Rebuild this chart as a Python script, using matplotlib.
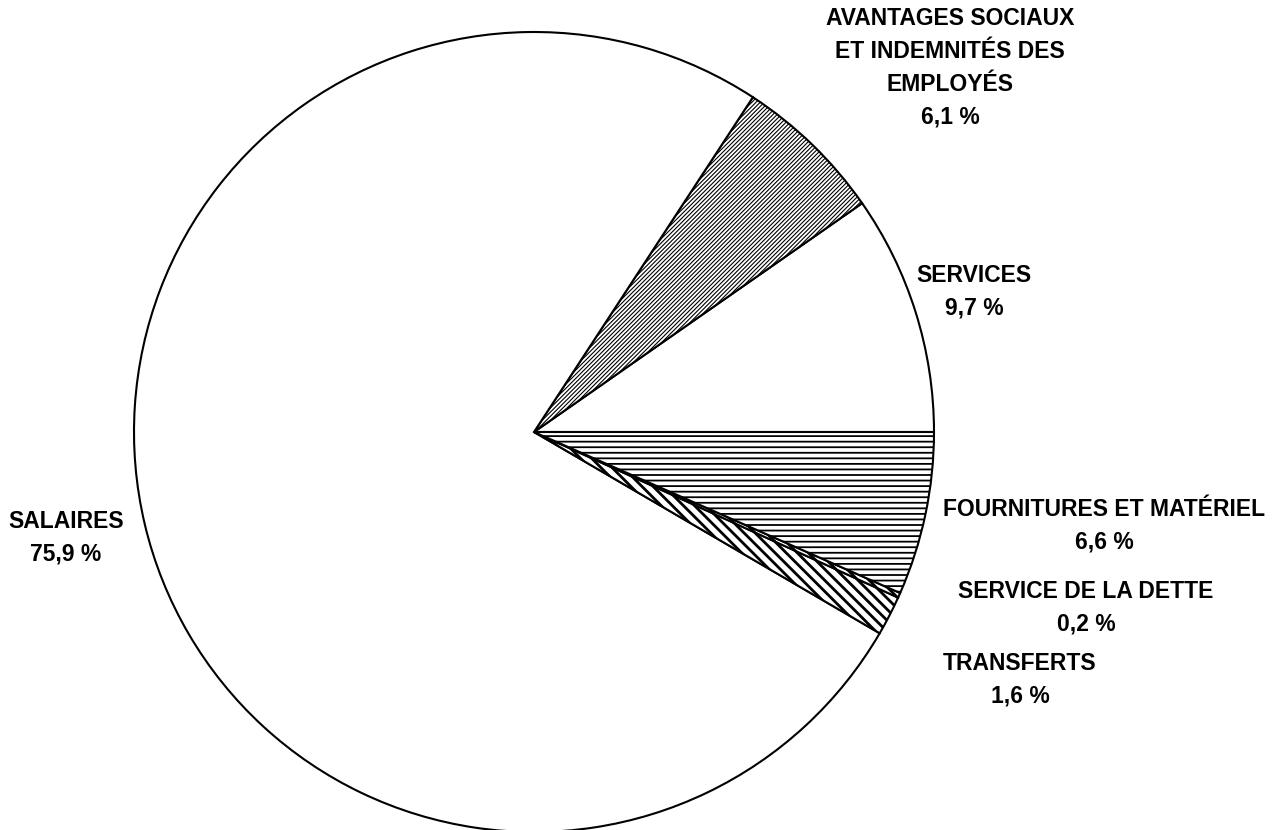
import matplotlib
matplotlib.use('Agg')
import matplotlib.pyplot as plt

# Budget breakdown (percent), counterclockwise from 3 o'clock
categories = ['SERVICES',
              'AVANTAGES SOCIAUX\nET INDEMNITÉS DES\nEMPLOYÉS',
              'SALAIRES',
              'TRANSFERTS',
              'SERVICE DE LA DETTE',
              'FOURNITURES ET MATÉRIEL']
shares = [9.7, 6.1, 75.9, 1.6, 0.2, 6.6]
pct_labels = ['9,7 %', '6,1 %', '75,9 %', '1,6 %', '0,2 %', '6,6 %']

hatches = ['', '////////', '', '\\\\\\', '\\\\\\', '---']
hatch_lw = [1.0, 0.8, 1.0, 2.0, 2.0, 1.3]

# label centres in axes units (pie radius = 1)
label_pos = [(1.10, 0.35), (1.04, 0.91), (-1.17, -0.265),
             (1.215, -0.62), (1.38, -0.44), (1.425, -0.235)]

plt.rcParams['font.family'] = ['Liberation Sans', 'DejaVu Sans']
plt.rcParams['hatch.color'] = 'black'

fig = plt.figure(figsize=(12.75, 8.3), dpi=100)
W, H = 1275, 830
cx, cy, r = 534, 432, 400
ax = fig.add_axes([(cx - r) / W, (H - cy - r) / H, 2 * r / W, 2 * r / H])

wedges, _ = ax.pie(shares, startangle=0, counterclock=True,
                   colors=['white'] * len(shares), radius=1,
                   wedgeprops=dict(edgecolor='black', linewidth=1.5))
for w, h, lw in zip(wedges, hatches, hatch_lw):
    if h:
        w.set_hatch(h)
        if hasattr(w, 'set_hatch_linewidth'):
            w.set_hatch_linewidth(lw)

for name, pct, (x, y) in zip(categories, pct_labels, label_pos):
    ax.text(x, y, name + '\n' + pct, ha='center', va='center',
            fontsize=16.5, fontweight='bold', linespacing=1.55)

ax.set_xlim(-1, 1)
ax.set_ylim(-1, 1)
ax.set_aspect('auto')
ax.axis('off')

fig.savefig('out.png', dpi=100)
